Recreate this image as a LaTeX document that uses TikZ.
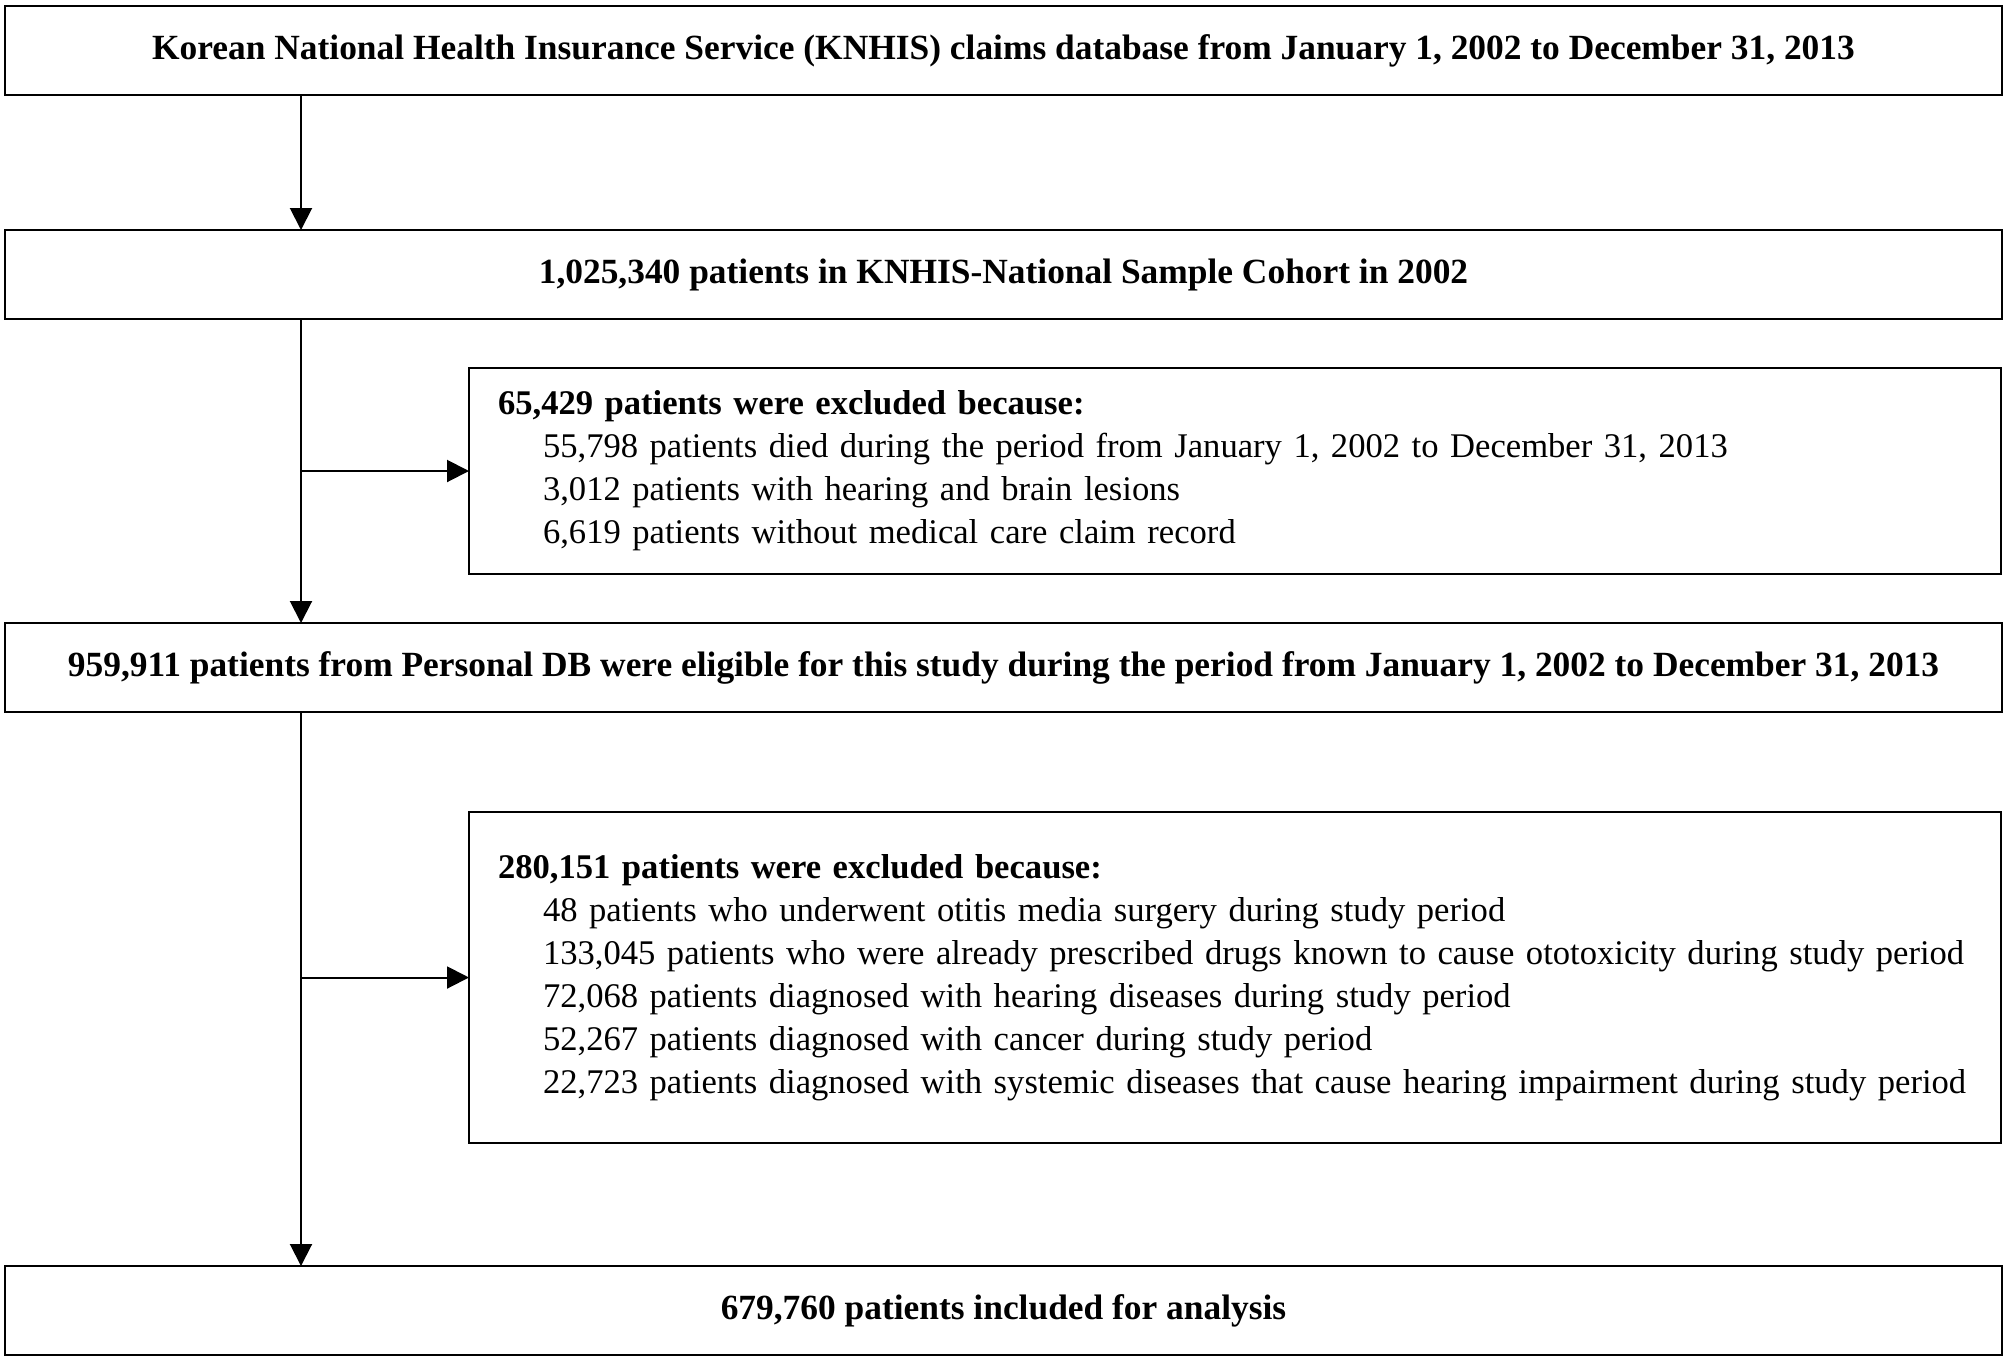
\documentclass[tikz,border=0pt]{standalone}
\usepackage{fontspec}
\setmainfont{Liberation Serif}
\usetikzlibrary{arrows.meta,positioning,calc}

\begin{document}
\begin{tikzpicture}[
    node distance=1.5cm,
    box/.style={
        rectangle,
        draw=black,
        line width=1.4pt,
        minimum height=44.5pt,
        minimum width=998.5pt,
        inner sep=0pt,
        outer sep=0pt,
        align=center,
        font=\fontsize{17.7}{21.5}\selectfont\bfseries
    },
    exclusion/.style={
        rectangle,
        draw=black,
        line width=1.4pt,
        minimum width=766pt,
        text width=737pt,
        inner xsep=14.5pt,
        inner ysep=0pt,
        outer sep=0pt,
        align=left,
        font=\fontsize{17.3}{21.5}\selectfont
    },
    arrow/.style={
        -{Triangle[length=11pt,width=11pt]},
        line width=1pt
    }
]

\useasboundingbox (0,0) rectangle (1003pt,-680pt);

% Main flow
\node[box] (claims) at (501.75pt,-25.25pt) {Korean National Health Insurance Service (KNHIS) claims database from January 1, 2002 to December 31, 2013};
\node[box, below=67.5pt of claims] (cohort) {1,025,340 patients in KNHIS-National Sample Cohort in 2002};
\node[box, below=152pt of cohort] (eligible) {959,911 patients from Personal DB were eligible for this study during the period from January 1, 2002 to December 31, 2013};
\node[box, below=277pt of eligible] (analysis) {679,760 patients included for analysis};

% Exclusions
\node[exclusion, minimum height=103pt, below right=24.5pt and 232pt of cohort.south west] (excl_first) {%
{\bfseries 65,429 patients were excluded because:}\\
\hspace*{22.5pt}55,798 patients died during the period from January 1, 2002 to December 31, 2013\\
\hspace*{22.5pt}3,012 patients with hearing and brain lesions\\
\hspace*{22.5pt}6,619 patients without medical care claim record};
\node[exclusion, minimum height=165.5pt, below right=50pt and 232pt of eligible.south west] (excl_second) {%
{\bfseries 280,151 patients were excluded because:}\\
\hspace*{22.5pt}48 patients who underwent otitis media surgery during study period\\
\hspace*{22.5pt}133,045 patients who were already prescribed drugs known to cause ototoxicity during study period\\
\hspace*{22.5pt}72,068 patients diagnosed with hearing diseases during study period\\
\hspace*{22.5pt}52,267 patients diagnosed with cancer during study period\\
\hspace*{22.5pt}22,723 patients diagnosed with systemic diseases that cause hearing impairment during study period};

% Trunk line
\coordinate (trunk) at ([xshift=148pt]claims.south west);

% Connections
\draw[arrow] (trunk) -- (trunk |- cohort.north);
\draw[arrow] (trunk |- cohort.south) -- (trunk |- eligible.north);
\draw[arrow] (trunk |- eligible.south) -- (trunk |- analysis.north);

% Exclusion branches
\draw[arrow] (trunk |- excl_first.west) -- (excl_first.west);
\draw[arrow] (trunk |- excl_second.west) -- (excl_second.west);

\end{tikzpicture}
\end{document}
